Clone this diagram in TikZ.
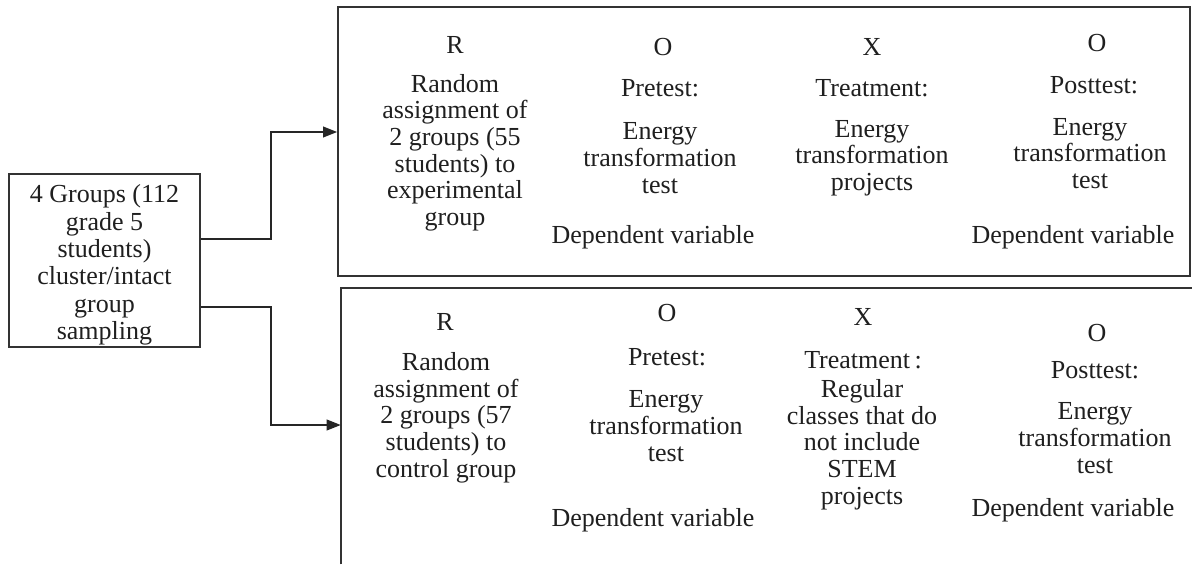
\documentclass[tikz,border=0pt]{standalone}
\usepackage{fontspec}
\setmainfont{Liberation Serif}
\usetikzlibrary{arrows.meta}
\begin{document}
\begin{tikzpicture}[x=0.75pt,y=-0.75pt,
  txt/.style={inner sep=0pt,align=center,font=\fontsize{19.5}{20}\selectfont,text=black!88},
  boxline/.style={line width=1.3pt,draw=black!80},
  conn/.style={line width=1.3pt,draw=black!85,-{Triangle[length=10.5pt,width=8pt]}},
  lbox/.style={draw=black!80,line width=1.3pt,inner sep=0pt,minimum width=143.25pt,minimum height=129.75pt}]
\useasboundingbox (0,0) rectangle (1192,564);
\clip (0,0) rectangle (1192,564);
\fill[white] (0,0) rectangle (1192,564);

% left box
\node[lbox] (L) at (104.5,260.5) {};
\node[txt,font=\fontsize{19.5}{20.5}\selectfont] (Ltext) at (104.5,265) {4 Groups (112\\grade 5\\students)\\cluster/intact\\group\\sampling};

% top box
\node[boxline,draw,minimum width=639pt,minimum height=201.75pt,inner sep=0pt] (T) at (764,141.5) {};
% bottom box (open on right and bottom)
\node[minimum width=638.25pt,minimum height=207pt,inner sep=0pt] (B) at (766.5,426) {};
\draw[boxline] (B.south west) -- (B.north west) -- (B.north east);

% connectors
\coordinate (k1) at (271,239);
\coordinate (k2) at (271,132);
\coordinate (k3) at (271,307);
\coordinate (k4) at (271,425);
\draw[conn] (L.east |- k1) -- (k1) -- (k2) -- (T.west |- k2);
\draw[conn] (L.east |- k3) -- (k3) -- (k4) -- (B.west |- k4);

% top box texts
\node[txt] (t1a) at (455,45) {R};
\node[txt] (t1b) at (455,152.5) {Random\\assignment of\\2 groups (55\\students) to\\experimental\\group};
\node[txt] (t2a) at (663,47) {O};
\node[txt] (t2b) at (660,88) {Pretest:};
\node[txt] (t2c) at (660,158) {Energy\\transformation\\test};
\node[txt] (t2d) at (653,237) {Dependent variable};
\node[txt] (t3a) at (872,47) {X};
\node[txt] (t3b) at (872,88) {Treatment:};
\node[txt] (t3c) at (872,158) {Energy\\transformation\\projects};
\node[txt] (t4a) at (1097,43) {O};
\node[txt] (t4b) at (1094,85) {Posttest:};
\node[txt] (t4c) at (1090,153.5) {Energy\\transformation\\test};
\node[txt] (t4d) at (1073,237) {Dependent variable};

% bottom box texts
\node[txt] (b1a) at (445,322) {R};
\node[txt] (b1b) at (446,417.5) {Random\\assignment of\\2 groups (57\\students) to\\control group};
\node[txt] (b2a) at (667,313) {O};
\node[txt] (b2b) at (667,357) {Pretest:};
\node[txt] (b2c) at (666,426) {Energy\\transformation\\test};
\node[txt] (b2d) at (653,520) {Dependent variable};
\node[txt] (b3a) at (863,317) {X};
\node[txt] (b3b) at (863,360) {Treatment\,:};
\node[txt] (b3c) at (862,444.5) {Regular\\classes that do\\not include\\STEM\\projects};
\node[txt] (b4a) at (1097,333) {O};
\node[txt] (b4b) at (1095,370) {Posttest:};
\node[txt] (b4c) at (1095,438) {Energy\\transformation\\test};
\node[txt] (b4d) at (1073,510) {Dependent variable};
\end{tikzpicture}
\end{document}
